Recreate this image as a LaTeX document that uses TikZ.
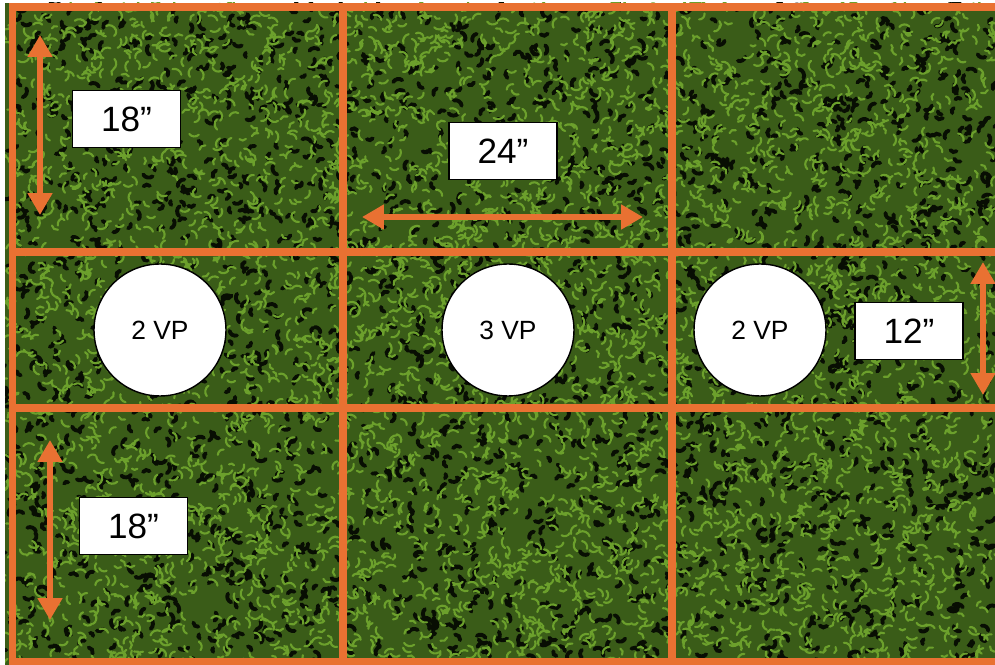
\documentclass[tikz,border=0pt]{standalone}
\usepackage{fontspec}
\setmainfont{Liberation Sans}
\usepackage{xcolor}
\usetikzlibrary{arrows.meta}
\definecolor{fieldorange}{RGB}{233,113,50}
\definecolor{turfbase}{RGB}{58,92,24}
\definecolor{turfdark}{RGB}{8,14,3}
\definecolor{turflight}{RGB}{108,160,44}

\begin{document}
\begin{tikzpicture}[
      x=0.02cm, y=-0.02cm,
      gridline/.style={draw=fieldorange, line width=4.5pt},
      dimlabel/.style={draw=black, line width=1.1pt, fill=white, minimum width=2.16cm, minimum height=1.14cm, inner sep=0pt, font=\fontsize{20}{24}\selectfont},
      objective/.style={circle, draw=black, line width=0.8pt, fill=white, minimum size=2.64cm, inner sep=0pt, font=\fontsize{15}{18}\selectfont},
      dimarr/.style={{Triangle[length=12.5pt,width=13.5pt]}-{Triangle[length=12.5pt,width=13.5pt]}, draw=fieldorange, line width=3.2pt},
      blade/.style={line cap=round, line width=#1}
  ]
    \useasboundingbox (0,0) rectangle (995,665);
    \fill[white] (0,0) rectangle (995,665);
    \fill[turfbase] (5,3) rectangle (995,665);
    % turf texture
    \begin{scope}
      \clip (5,3) rectangle (995,665);
      \pgfmathsetseed{7}
      \draw[turfdark, blade=2.2pt] foreach \i in {1,...,2600} {({5+990*rnd},{3+662*rnd}) to[bend left=50] ++({360*rnd}:{4+6*rnd})};
      \draw[turflight, blade=1.2pt] foreach \i in {1,...,5000} {({5+990*rnd},{3+662*rnd}) to[bend right=50] ++({360*rnd}:{5+6*rnd})};
    \end{scope}
    % field grid
    \draw[gridline] (12.5,665) -- (12.5,7) -- (995,7);
    \draw[gridline] (12.5,662) -- (995,662);
    \draw[gridline] (343,7) -- (343,662);
    \draw[gridline] (672,7) -- (672,662);
    \draw[gridline] (12.5,252) -- (995,252);
    \draw[gridline] (12.5,408) -- (995,408);
    % objectives
    \node[objective] (vpleft) at (160,330) {2 VP};
    \node[objective] (vpmid) at (508,330) {3 VP};
    \node[objective] (vpright) at (760,330) {2 VP};
    % dimensions
    \coordinate (upA) at (40,35);   \coordinate (upB) at (40,215);
    \coordinate (midA) at (362,217); \coordinate (midB) at (643,217);
    \coordinate (rgtA) at (983,262); \coordinate (rgtB) at (983,395);
    \coordinate (lowA) at (50,440);  \coordinate (lowB) at (50,620);
    \draw[dimarr] (upA) -- (upB);
    \draw[dimarr] (midA) -- (midB);
    \draw[dimarr] (rgtA) -- (rgtB);
    \draw[dimarr] (lowA) -- (lowB);
    \node[dimlabel] (upper) at (126.5,119) {18”};
    \node[dimlabel] (across) at (503,151) {24”};
    \node[dimlabel] (side) at (909,331) {12”};
    \node[dimlabel] (lower) at (133.5,526) {18”};
  \end{tikzpicture}
\end{document}
